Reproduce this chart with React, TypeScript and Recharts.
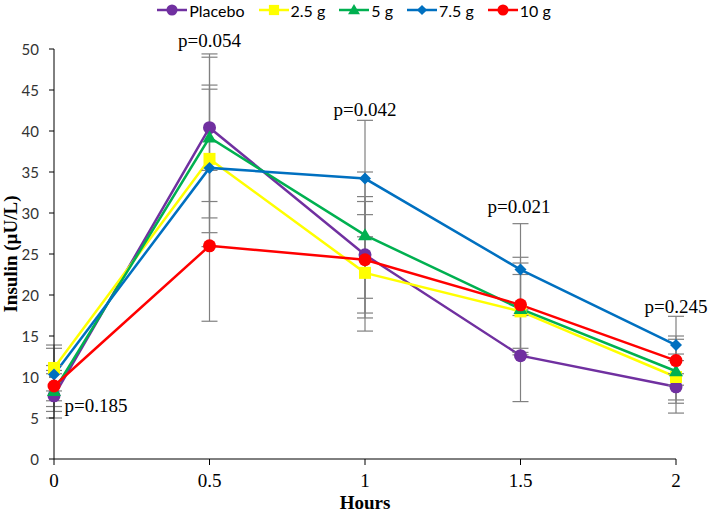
import React from 'react';
import { LineChart, Line, XAxis, YAxis, ErrorBar, ReferenceDot, Legend } from 'recharts';

const hours = [0, 0.5, 1, 1.5, 2];
const xTicks = [0, 0.5, 1, 1.5, 2];
const yTicks = [0, 5, 10, 15, 20, 25, 30, 35, 40, 45, 50];

const placebo = [7.7, 40.4, 24.9, 12.6, 8.8];
const placeboErr = [2.7, 9.0, 7.1, 5.6, 3.2];
const g25 = [11.1, 36.6, 22.7, 18.0, 10.0];
const g25Err = [2.8, 9.0, 7.1, 4.5, 2.8];
const g5 = [8.3, 39.2, 27.3, 18.3, 10.7];
const g5Err = [2.5, 9.8, 7.7, 5.6, 3.9];
const g75 = [10.3, 35.5, 34.2, 23.1, 13.9];
const g75Err = [3.2, 9.6, 7.1, 5.6, 3.5];
const g10 = [8.9, 26.0, 24.3, 18.8, 12.0];
const g10Err = [2.5, 9.2, 7.1, 5.8, 3.0];

const pLabels = ['p=0.185', 'p=0.054', 'p=0.042', 'p=0.021', 'p=0.245'];
const pX = [0.135, 0.5, 1.0, 1.495, 2.0];
const pY = [6.6, 51.1, 42.7, 30.85, 18.65];

const SERIF = '"Liberation Serif", "Times New Roman", serif';
const SANS = 'Lato, "Open Sans", sans-serif';

const series = [
  { key: 'placebo', err: 'placeboErr', name: 'Placebo', color: '#7030A0', shape: 'circle' },
  { key: 'g25', err: 'g25Err', name: '2.5 g', color: '#FFFF00', shape: 'square' },
  { key: 'g5', err: 'g5Err', name: '5 g', color: '#00B050', shape: 'triangle' },
  { key: 'g75', err: 'g75Err', name: '7.5 g', color: '#0070C0', shape: 'diamond' },
  { key: 'g10', err: 'g10Err', name: '10 g', color: '#FF0000', shape: 'circle' },
];

const data = hours.map((h, i) => ({
  hours: h,
  placebo: placebo[i], placeboErr: placeboErr[i],
  g25: g25[i], g25Err: g25Err[i],
  g5: g5[i], g5Err: g5Err[i],
  g75: g75[i], g75Err: g75Err[i],
  g10: g10[i], g10Err: g10Err[i],
}));

function MarkerShape({ cx, cy, shape, color, s = 1 }: any) {
  if (cx == null || cy == null) return null;
  if (shape === 'square') return <rect x={cx - 6 * s} y={cy - 6 * s} width={12 * s} height={12 * s} fill={color} />;
  if (shape === 'triangle')
    return <polygon points={`${cx},${cy - 7 * s} ${cx + 7 * s},${cy + 5 * s} ${cx - 7 * s},${cy + 5 * s}`} fill={color} />;
  if (shape === 'diamond')
    return <polygon points={`${cx},${cy - 6 * s} ${cx + 6 * s},${cy} ${cx},${cy + 6 * s} ${cx - 6 * s},${cy}`} fill={color} />;
  return <circle cx={cx} cy={cy} r={6.5 * s} fill={color} />;
}

function LegendContent() {
  return (
    <div style={{ display: 'flex', justifyContent: 'center', alignItems: 'center', height: 20, fontFamily: SANS, fontSize: 16, color: '#000' }}>
      {series.map((s, i) => (
        <div key={s.key} style={{ display: 'flex', alignItems: 'center', marginRight: i < series.length - 1 ? 14 : 0 }}>
          <svg width={30} height={14} style={{ marginRight: 2 }}>
            <line x1={0} y1={7} x2={30} y2={7} stroke={s.color} strokeWidth={2.5} />
            <MarkerShape cx={15} cy={7} shape={s.shape} color={s.color} s={0.85} />
          </svg>
          <span>{s.name}</span>
        </div>
      ))}
    </div>
  );
}

function YLabel({ viewBox }: any) {
  const cy = viewBox.y + viewBox.height / 2;
  const cx = 10;
  return (
    <text x={cx} y={cy} transform={`rotate(-90 ${cx} ${cy})`} textAnchor="middle" dominantBaseline="central"
      fontFamily={SERIF} fontWeight="bold" fontSize={19} fill="#000">
      Insulin (µU/L)
    </text>
  );
}

function XLabel({ viewBox }: any) {
  return (
    <text x={viewBox.x + viewBox.width / 2} y={viewBox.y + viewBox.height - 6} textAnchor="middle"
      fontFamily={SERIF} fontWeight="bold" fontSize={19} fill="#000">
      Hours
    </text>
  );
}

function XTick({ x, y, payload }: any) {
  return (
    <text x={x} y={y + 20} textAnchor="middle" fontFamily={SERIF} fontSize={19} fill="#000">
      {payload.value}
    </text>
  );
}

function YTick({ x, y, payload }: any) {
  return (
    <text x={x - 8} y={y} textAnchor="end" dominantBaseline="central" fontFamily={SANS} fontSize={15} fill="#333">
      {payload.value}
    </text>
  );
}

export default function App() {
  return (
    <div style={{ position: 'absolute', left: 0, top: 0, background: '#fff' }}>
      <LineChart width={708} height={515} data={data} margin={{ top: 29, right: 32, bottom: 0, left: 0 }}>
        <Legend verticalAlign="top" content={<LegendContent />} wrapperStyle={{ top: 0, left: 0, width: 708 }} />
        <XAxis
          type="number"
          dataKey="hours"
          domain={[0, 2]}
          ticks={xTicks}
          height={56}
          stroke="#000"
          tickLine={{ stroke: '#000' }}
          tickSize={6}
          tick={<XTick />}
          label={<XLabel />}
        />
        <YAxis
          domain={[0, 50]}
          ticks={yTicks}
          width={54}
          stroke="#000"
          tickSize={5}
          tickLine={{ stroke: '#000' }}
          tick={<YTick />}
          label={<YLabel />}
        />
        {series.map((s) => (
          <Line
            key={s.key}
            dataKey={s.key}
            name={s.name}
            stroke={s.color}
            strokeWidth={2.5}
            isAnimationActive={false}
            dot={(p: any) => <MarkerShape key={`${s.key}-${p.index}`} cx={p.cx} cy={p.cy} shape={s.shape} color={s.color} />}
            activeDot={false}
          >
            <ErrorBar dataKey={s.err} direction="y" width={8} stroke="#808080" strokeWidth={1.2} />
          </Line>
        ))}
        {pLabels.map((t, i) => (
          <ReferenceDot
            key={t}
            x={pX[i]}
            y={pY[i]}
            r={0}
            ifOverflow="visible"
            label={{ value: t, position: 'center', style: { fontFamily: SERIF, fontSize: 19, fill: '#000' } }}
          />
        ))}
      </LineChart>
    </div>
  );
}
